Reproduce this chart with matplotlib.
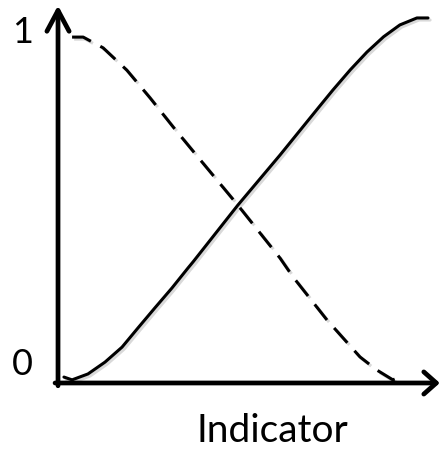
import matplotlib
matplotlib.use("Agg")
import matplotlib.pyplot as plt
import matplotlib.patheffects as pe

# Curves (x: 0 at the y-axis, 1 at the right end of the solid curve;
# y: 0 on the x-axis, 1 at the "1" label)
rise_x = [0.016, 0.038, 0.081, 0.127, 0.173, 0.216, 0.262, 0.308, 0.351, 0.365,
          0.486, 0.600, 0.703, 0.743, 0.790, 0.835, 0.880, 0.924, 0.970, 1.000]
rise_y = [0.017, 0.009, 0.026, 0.060, 0.103, 0.158, 0.216, 0.273, 0.330, 0.348,
          0.511, 0.655, 0.790, 0.842, 0.900, 0.951, 0.995, 1.029, 1.049, 1.049]

fall_x = [0.038, 0.068, 0.122, 0.186, 0.249, 0.311, 0.376, 0.486, 0.600, 0.635,
          0.727, 0.816, 0.862, 0.905, 0.930]
fall_y = [0.994, 0.994, 0.963, 0.899, 0.819, 0.736, 0.652, 0.511, 0.359, 0.305,
          0.181, 0.075, 0.037, 0.009, 0.020]

tick_labels = ["0", "1"]
tick_values = [0, 1]
x_label = "Indicator"

fig = plt.figure(figsize=(4.41, 4.49), dpi=100)
ax = fig.add_axes([0, 0, 1, 1])
ax.set_xlim(-0.1568, 1.0351)
ax.set_ylim(-0.1897, 1.1006)
ax.axis("off")

shadow = [pe.SimpleLineShadow(offset=(1.5, -1.5), alpha=0.15, shadow_color="black"), pe.Normal()]

ax.plot(rise_x, rise_y, color="black", lw=2.2, solid_capstyle="round",
        solid_joinstyle="round", path_effects=shadow)
ax.plot(fall_x, fall_y, color="black", lw=2.2, linestyle=(0, (6.5, 3.5)),
        path_effects=shadow)

# axes with open arrow heads
ax.annotate("", xy=(0, 1.085), xytext=(0, -0.008),
            arrowprops=dict(arrowstyle="->,head_length=0.75,head_width=0.4",
                            lw=3.4, color="black", mutation_scale=20,
                            shrinkA=0, shrinkB=0))
ax.annotate("", xy=(1.032, 0), xytext=(-0.008, 0),
            arrowprops=dict(arrowstyle="->,head_length=0.45,head_width=0.4",
                            lw=3.4, color="black", mutation_scale=20,
                            shrinkA=0, shrinkB=0))

tick_y = {0: 0.023, 1: 0.977}
for lab, v in zip(tick_labels, tick_values):
    ax.text(-0.095, tick_y[v], lab, ha="center", va="baseline",
            fontsize=26, family="Lato")

ax.text(0.580, -0.170, x_label, ha="center", va="baseline",
        fontsize=28, family="Lato")

fig.savefig("out.png", dpi=100)
